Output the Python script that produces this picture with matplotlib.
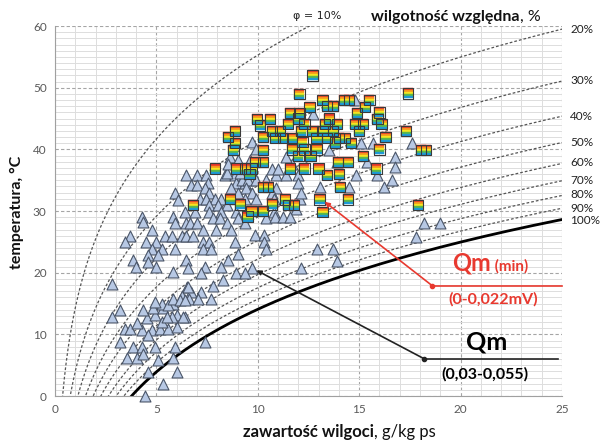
import numpy as np
import matplotlib
matplotlib.use("Agg")
import matplotlib.pyplot as plt
from matplotlib.path import Path
from matplotlib.markers import MarkerStyle
from matplotlib.ticker import MultipleLocator

plt.rcParams['font.family'] = ['Lato', 'DejaVu Sans']

# ---------------- data ----------------
rh_levels = [0.1, 0.2, 0.3, 0.4, 0.5, 0.6, 0.7, 0.8, 0.9]
rh_labels = ['20%', '30%', '40%', '50%', '60%', '70%', '80%', '90%', '100%']
rh_label_y = [59.5, 51.2, 45.4, 41.2, 37.9, 35.0, 32.7, 30.5, 28.4]

tri_pts = [
    (6.48, 35.8), (6.98, 35.8), (7.46, 35.9), (8.37, 35.9), (8.87, 35.9), (10.9, 35.9), (11.4, 35.9), (12.0, 35.9),
    (6.73, 34.2), (6.98, 34.2), (7.55, 34.5), (8.95, 34.5), (9.36, 34.5), (12.0, 34.5),
    (9.2, 35.0), (9.5, 35.0), (9.93, 35.0), (10.4, 35.0),
    (8.46, 36.1), (9.1, 36.1), (10.7, 36.9), (11.0, 36.9), (11.7, 37.7),
    (8.62, 38.8), (9.03, 38.3), (9.6, 38.3), (8.54, 37.7), (9.69, 41.2), (9.93, 40.0), (11.4, 38.8),
    (5.9, 32.9), (7.39, 33.7), (8.7, 33.7), (9.44, 33.7), (10.9, 33.7),
    (7.6, 32.9), (9.0, 32.9), (9.7, 32.9), (10.7, 32.9),
    (6.07, 31.8), (7.14, 31.9), (7.46, 31.9), (7.88, 31.9), (8.2, 31.9), (9.36, 31.9), (9.9, 31.9), (10.8, 31.9), (12.07, 31.9),
    (7.6, 31.0), (8.04, 31.0), (8.46, 31.0),
    (6.4, 29.9), (6.9, 29.9), (7.6, 29.9), (8.2, 29.9), (8.95, 29.9), (10.8, 29.9), (11.9, 30.4),
    (4.27, 29.1), (5.83, 29.1), (7.8, 28.8), (8.13, 28.8), (9.0, 28.8), (10.4, 28.8), (10.84, 29.1), (11.25, 29.1), (11.6, 29.1),
    (4.35, 28.3), (5.91, 28.0), (6.48, 28.0), (6.65, 28.0), (6.98, 28.0), (8.46, 28.0), (9.36, 28.0),
    (4.76, 26.9), (7.3, 26.9), (7.96, 26.9), (8.7, 26.9),
    (3.7, 25.9), (5.4, 25.9), (5.75, 25.9), (6.24, 25.9), (6.48, 25.9), (6.81, 25.9), (9.85, 26.1), (10.3, 26.1),
    (3.45, 25.0), (4.5, 25.0), (5.0, 25.0), (7.3, 25.0), (7.6, 25.0), (8.87, 25.0), (10.3, 25.0),
    (4.76, 23.8), (5.26, 23.8), (5.9, 23.9), (7.3, 23.9), (7.7, 23.9), (10.4, 23.9),
    (4.6, 22.9), (5.1, 22.9), (9.0, 23.1),
    (3.86, 22.0), (4.6, 21.8), (6.48, 22.0), (8.54, 22.0),
    (4.0, 20.9), (5.0, 20.9), (6.57, 20.7), (7.39, 20.9), (8.2, 20.9), (9.69, 20.8),
    (5.83, 20.1), (7.22, 20.0), (8.95, 19.9), (9.36, 19.9),
    (8.3, 18.8), (7.8, 17.8), (2.8, 18.2),
    (6.5, 17.7), (6.7, 16.9), (7.2, 16.9), (6.6, 15.8), (7.06, 15.8), (7.7, 15.8), (6.4, 12.8),
    (12.7, 45.8), (14.8, 48.0), (15.1, 41.0), (15.7, 41.0), (17.6, 41.0), (16.75, 38.8), (13.5, 39.9),
    (13.9, 38.0), (15.4, 38.0), (16.75, 37.2), (14.85, 35.8), (15.9, 35.8), (16.6, 35.0), (14.5, 33.9),
    (13.05, 33.9), (16.2, 33.9), (12.15, 32.9),
    (18.2, 28.0), (18.97, 28.0), (17.8, 25.8), (12.9, 23.8), (13.7, 23.8), (13.9, 21.9), (12.15, 20.7),
    (3.2, 13.9), (2.79, 12.8), (3.45, 10.9), (3.7, 10.9), (3.2, 8.8), (3.86, 8.0), (4.27, 8.0), (3.53, 6.1),
    (4.02, 6.1), (4.35, 6.9), (4.6, 3.9), (4.43, 0.0), (5.33, 2.0), (6.0, 3.9), (5.83, 6.1), (5.09, 5.8),
    (4.93, 8.0), (5.9, 8.0), (4.27, 10.7), (4.76, 10.7), (5.17, 10.9), (5.58, 10.9), (4.6, 9.9), (4.02, 11.8),
    (4.52, 12.6), (4.93, 13.1), (5.26, 12.0), (4.35, 13.9), (4.84, 14.2), (5.33, 14.2), (6.0, 11.2),
    (5.26, 15.0), (4.93, 15.3), (6.0, 13.1), (5.75, 12.8), (5.5, 12.8), (5.83, 15.0), (6.24, 16.3),
    (6.57, 17.7), (7.39, 8.8), (6.32, 12.8), (5.58, 14.7), (5.83, 15.8), (6.16, 15.5), (6.4, 15.5),
]
tri_x = [p[0] for p in tri_pts]
tri_y = [p[1] for p in tri_pts]

sq_pts = [
    (12.7, 52.0), (12.05, 49.0), (17.4, 49.1), (13.2, 48.0), (14.25, 48.0), (14.5, 48.0), (15.5, 48.0),
    (12.55, 46.9), (13.4, 47.0), (13.7, 47.0), (15.3, 46.9), (14.9, 45.9), (16.0, 46.0), (11.6, 45.9),
    (12.05, 45.9), (12.0, 45.0), (13.5, 45.0), (15.9, 44.9), (11.5, 44.1), (12.3, 44.1), (13.3, 44.1),
    (13.9, 44.1), (14.8, 44.1), (15.2, 44.1), (16.1, 44.1), (11.1, 43.0), (12.15, 43.0), (12.7, 43.0),
    (13.2, 43.0), (13.7, 43.0), (15.0, 43.0), (17.3, 43.0), (11.7, 41.9), (12.9, 41.9), (13.4, 41.9),
    (14.0, 41.9), (14.3, 41.9), (16.3, 42.0), (12.2, 41.2), (13.8, 41.1), (14.6, 41.0), (11.7, 40.0),
    (12.3, 40.0), (12.9, 40.0), (16.0, 40.0), (12.0, 38.9), (12.6, 38.9), (15.2, 38.9), (13.95, 38.0),
    (14.45, 38.0), (11.6, 36.9), (12.3, 36.9), (13.0, 36.9), (15.85, 36.9), (13.4, 35.9), (14.0, 36.0),
    (14.05, 33.9), (13.05, 31.9), (14.45, 31.9), (13.2, 29.9), (17.9, 31.0), (18.05, 39.9), (18.3, 39.9),
    (9.95, 44.9), (10.6, 44.9), (10.1, 43.9), (8.87, 43.0), (10.7, 43.0), (8.54, 42.0), (10.26, 42.0),
    (10.84, 41.9), (11.25, 41.9), (8.87, 41.0), (8.8, 39.9), (10.26, 39.9), (9.85, 38.0), (10.26, 38.0),
    (7.88, 36.9), (8.95, 36.9), (9.36, 36.9), (9.69, 36.9), (9.6, 36.0), (10.26, 33.9), (10.5, 33.9),
    (8.62, 32.0), (6.81, 31.0), (9.11, 31.1), (10.7, 31.1), (11.33, 31.9), (11.5, 31.0), (11.8, 31.0),
    (9.69, 30.0), (10.26, 30.0), (9.5, 29.1),
]
sq_x = [p[0] for p in sq_pts]
sq_y = [p[1] for p in sq_pts]

# annotation anchor points (data coords)
red_tip = (13.3, 31.5)
red_knee = (18.6, 17.9)
black_tip = (9.93, 20.4)
black_knee = (18.2, 6.05)

# ---------------- figure ----------------
fig = plt.figure(figsize=(6.01, 4.43), dpi=100)
ax = fig.add_axes([0.0915, 0.106, 0.8436, 0.835])
ax.set_xlim(0, 25)
ax.set_ylim(0, 60)

ax.xaxis.set_major_locator(MultipleLocator(5))
ax.xaxis.set_minor_locator(MultipleLocator(1))
ax.yaxis.set_major_locator(MultipleLocator(10))
ax.yaxis.set_minor_locator(MultipleLocator(1))
ax.grid(which='minor', color='#dddddd', lw=0.7, ls='-', zorder=0)
ax.grid(which='major', color='#a5a5a5', lw=0.8, ls=(0, (3, 2)), zorder=0.5)
ax.set_axisbelow(True)
for s in ['top', 'right']:
    ax.spines[s].set_visible(False)
for s in ['left', 'bottom']:
    ax.spines[s].set_color('#a0a0a0')
    ax.spines[s].set_linewidth(0.8)
ax.tick_params(which='both', length=0, labelsize=8.5, labelcolor='#595959', pad=6)

# psychrometric relative humidity curves
T = np.linspace(-5, 65, 400)
ps = 610.94 * np.exp(17.625 * T / (T + 243.04))
P = 101325.0
for phi in rh_levels:
    xg = 622.0 * phi * ps / (P - phi * ps)
    ax.plot(xg, T, color='#555555', lw=0.9, ls=(0, (2.2, 1.6)), zorder=1)
xs = 622.0 * ps / (P - ps)
ax.plot(xs, T, color='black', lw=2.0, zorder=2)

# triangles
ax.scatter(tri_x, tri_y, marker='^', s=62, facecolor='#b7c8e4', edgecolor='#4a5568',
           linewidths=0.8, zorder=3, clip_on=False)

# rainbow striped squares
stripe_cols = ['#e8332a', '#f7941d', '#f6e51f', '#5cb946', '#1d9ad6']
n = len(stripe_cols)
for i, c in enumerate(stripe_cols):
    y1 = 1 - 2 * i / n
    y0 = 1 - 2 * (i + 1) / n
    verts = [(-1, -1), (1, 1), (-1, y0), (1, y0), (1, y1), (-1, y1), (-1, y0)]
    codes = [Path.MOVETO, Path.MOVETO, Path.MOVETO, Path.LINETO, Path.LINETO, Path.LINETO, Path.CLOSEPOLY]
    ax.scatter(sq_x, sq_y, marker=MarkerStyle(Path(verts, codes)), s=56, color=c,
               linewidths=0.3, edgecolors=c, zorder=4 + i * 0.01)
ax.scatter(sq_x, sq_y, marker='s', s=56, facecolor='none', edgecolor='#3a3a3a',
           linewidths=0.8, zorder=4.5)

# annotations
red = '#e8392f'
ax.annotate('', xy=red_tip, xytext=red_knee,
            arrowprops=dict(arrowstyle='-|>', color=red, lw=1.2, mutation_scale=7, shrinkA=0, shrinkB=0), zorder=6)
ax.plot([red_knee[0], 25], [red_knee[1], red_knee[1]], color=red, lw=1.2, zorder=6, clip_on=False)
ax.plot([red_knee[0]], [red_knee[1]], 'o', color=red, ms=3, zorder=6)
ax.annotate('', xy=black_tip, xytext=black_knee,
            arrowprops=dict(arrowstyle='-|>', color='#222222', lw=1.2, mutation_scale=7, shrinkA=0, shrinkB=0), zorder=6)
ax.plot([black_knee[0], 24.8], [black_knee[1], black_knee[1]], color='#222222', lw=1.2, zorder=6)
ax.plot([black_knee[0]], [black_knee[1]], 'o', color='#222222', ms=3, zorder=6)

tq = ax.text(19.6, 20.3, 'Qm', color=red, fontsize=17, fontweight='bold', ha='left', va='baseline', zorder=7)
ax.annotate(' (min)', xy=(1, 20.3), xycoords=(tq, 'data'), color=red, fontsize=11, fontweight='bold',
            ha='left', va='baseline', zorder=7)
ax.text(21.6, 15.7, '(0-0,022mV)', color=red, fontsize=11.5, fontweight='bold', ha='center', va='center', zorder=7)
ax.text(21.3, 7.6, 'Qm', color='black', fontsize=18, fontweight='bold', ha='center', va='baseline', zorder=7)
ax.text(21.2, 3.6, '(0,03-0,055)', color='black', fontsize=11.5, fontweight='bold', ha='center', va='center', zorder=7)

# RH labels on the right
for lab, yy in zip(rh_labels, rh_label_y):
    ax.text(25.4, yy, lab, fontsize=8.5, color='#222222', ha='left', va='center', clip_on=False)
ax.text(11.75, 61.6, 'φ = 10%', fontsize=8, color='#222222', ha='left', va='center', clip_on=False,
        family=['DejaVu Sans'])
tb = ax.text(15.6, 60.8, 'wilgotność względna', fontsize=11.5, fontweight='bold', color='#111111',
             ha='left', va='baseline', clip_on=False)
ax.annotate(', %', xy=(1, 60.8), xycoords=(tb, 'data'), fontsize=11.5, color='#111111',
            ha='left', va='baseline', annotation_clip=False)

# axis labels
xb = ax.text(0.371, -0.112, 'zawartość wilgoci', transform=ax.transAxes, fontsize=12, fontweight='bold',
             color='#111111', ha='left', va='baseline')
ax.annotate(', g/kg ps', xy=(1, -0.112), xycoords=(xb, ax.transAxes), fontsize=12, color='#111111',
            ha='left', va='baseline', annotation_clip=False)
fig.text(0.028, 0.52, 'temperatura, °C', rotation=90, fontsize=11.5, fontweight='bold', color='#111111',
         ha='center', va='center')

fig.savefig('out.png', dpi=100)
